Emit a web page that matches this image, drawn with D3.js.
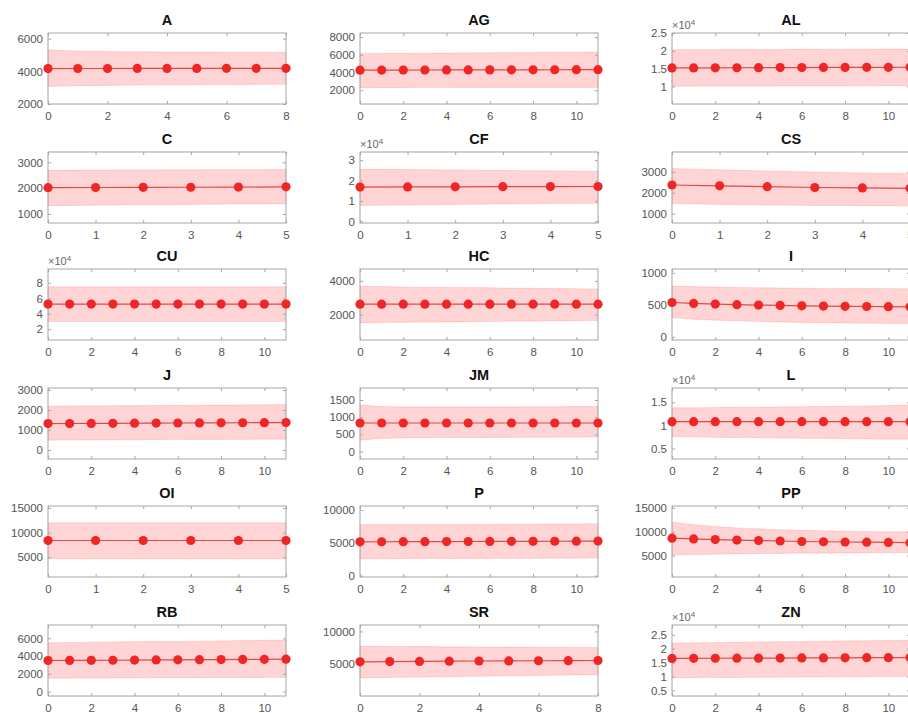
<!DOCTYPE html>
<html>
<head>
<meta charset="utf-8">
<script src="https://cdn.jsdelivr.net/npm/d3@7"></script>
<style>
  body { margin: 0; background: #fff; }
  svg { display: block; font-family: "Liberation Sans", Arial, sans-serif; }
</style>
</head>
<body>
<div id="chart"></div>
<script>
// Panel names, in reading order (3 per row)
var panelNames = ["A", "AG", "AL", "C", "CF", "CS", "CU", "HC", "I", "J", "JM", "L", "OI", "P", "PP", "RB", "SR", "ZN"];

// Mean values per panel
var A_mean  = [4170, 4175, 4175, 4178, 4180, 4182, 4184, 4186, 4188];
var AG_mean = [4260, 4270, 4275, 4280, 4285, 4290, 4295, 4300, 4305, 4310, 4315, 4320];
var AL_mean = [15200, 15220, 15240, 15260, 15280, 15300, 15320, 15340, 15360, 15380, 15390, 15400];
var C_mean  = [2020, 2025, 2030, 2035, 2040, 2050];
var CF_mean = [16800, 16900, 16950, 17000, 17050, 17100];
var CS_mean = [2370, 2330, 2290, 2250, 2230, 2210];
var CU_mean = [52500, 52500, 52500, 52500, 52500, 52500, 52500, 52500, 52500, 52500, 52500, 52500];
var HC_mean = [2620, 2620, 2620, 2620, 2620, 2620, 2620, 2620, 2620, 2620, 2620, 2620];
var I_mean  = [536, 522, 512, 503, 496, 490, 485, 480, 477, 474, 471, 468];
var J_mean  = [1320, 1325, 1330, 1335, 1340, 1345, 1350, 1355, 1358, 1362, 1366, 1370];
var JM_mean = [830, 830, 830, 830, 830, 830, 830, 830, 830, 830, 830, 830];
var L_mean  = [10800, 10800, 10800, 10800, 10800, 10800, 10800, 10800, 10800, 10800, 10800, 10800];
var OI_mean = [8400, 8400, 8400, 8400, 8400, 8400];
var P_mean  = [5150, 5160, 5170, 5180, 5190, 5200, 5210, 5220, 5230, 5240, 5250, 5260];
var PP_mean = [8650, 8500, 8350, 8250, 8150, 8050, 7950, 7900, 7850, 7800, 7750, 7700];
var RB_mean = [3500, 3510, 3520, 3530, 3545, 3560, 3575, 3590, 3605, 3620, 3635, 3650];
var SR_mean = [5300, 5330, 5360, 5390, 5420, 5440, 5460, 5480, 5500];
var ZN_mean = [16500, 16520, 16550, 16580, 16600, 16630, 16660, 16690, 16720, 16750, 16780, 16800];

// Upper bound of the shaded band
var A_upper  = [5310, 5250, 5220, 5200, 5190, 5180, 5175, 5170, 5168];
var AG_upper = [6140, 6150, 6165, 6180, 6195, 6210, 6225, 6240, 6255, 6275, 6295, 6320];
var AL_upper = [20300, 20320, 20340, 20360, 20380, 20400, 20420, 20440, 20460, 20480, 20490, 20500];
var C_upper  = [2690, 2700, 2705, 2710, 2715, 2720];
var CF_upper = [25500, 25400, 25200, 25000, 24800, 24600];
var CS_upper = [3160, 3100, 3040, 2990, 2950, 2920];
var CU_upper = [75000, 75000, 75000, 75000, 75000, 75000, 75000, 75000, 75000, 75000, 75000, 75000];
var HC_upper = [3680, 3660, 3640, 3620, 3610, 3600, 3590, 3570, 3560, 3550, 3535, 3520];
var I_upper  = [793, 785, 778, 772, 767, 763, 760, 757, 755, 754, 753, 752];
var J_upper  = [2200, 2205, 2210, 2215, 2220, 2225, 2235, 2240, 2245, 2255, 2260, 2270];
var JM_upper = [1360, 1310, 1300, 1300, 1300, 1300, 1300, 1300, 1305, 1305, 1308, 1310];
var L_upper  = [13800, 13800, 13850, 13900, 13950, 14000, 14050, 14100, 14150, 14200, 14300, 14400];
var OI_upper = [12000, 12000, 12000, 12000, 12000, 12000];
var P_upper  = [7800, 7780, 7770, 7770, 7780, 7790, 7800, 7820, 7840, 7860, 7880, 7900];
var PP_upper = [12000, 11500, 11100, 10800, 10600, 10400, 10300, 10200, 10100, 10050, 10000, 10000];
var RB_upper = [5500, 5530, 5560, 5590, 5610, 5630, 5650, 5680, 5710, 5740, 5770, 5800];
var SR_upper = [7700, 7680, 7650, 7620, 7600, 7580, 7550, 7520, 7500];
var ZN_upper = [22000, 22100, 22200, 22300, 22400, 22500, 22600, 22700, 22800, 22850, 22900, 23000];

// Lower bound of the shaded band
var A_lower  = [3070, 3120, 3140, 3160, 3175, 3185, 3195, 3200, 3210];
var AG_lower = [2280, 2290, 2295, 2300, 2300, 2305, 2305, 2310, 2310, 2310, 2315, 2315];
var AL_lower = [10100, 10110, 10120, 10130, 10140, 10150, 10160, 10170, 10180, 10190, 10195, 10200];
var C_lower  = [1320, 1340, 1355, 1370, 1385, 1400];
var CF_lower = [7800, 8000, 8300, 8500, 8700, 8900];
var CS_lower = [1480, 1440, 1410, 1390, 1380, 1370];
var CU_lower = [30000, 30000, 30000, 30000, 30000, 30000, 30000, 30000, 30000, 30000, 30000, 30000];
var HC_lower = [1510, 1530, 1545, 1560, 1570, 1585, 1595, 1605, 1615, 1625, 1640, 1650];
var I_lower  = [300, 275, 260, 250, 240, 232, 225, 220, 215, 212, 209, 207];
var J_lower  = [490, 495, 500, 505, 510, 515, 520, 525, 528, 532, 536, 540];
var JM_lower = [330, 380, 395, 400, 405, 405, 410, 410, 412, 415, 418, 420];
var L_lower  = [7600, 7500, 7400, 7350, 7300, 7250, 7200, 7150, 7100, 7050, 7000, 7000];
var OI_lower = [4700, 4700, 4700, 4700, 4700, 4700];
var P_lower  = [2550, 2570, 2590, 2600, 2610, 2620, 2630, 2640, 2650, 2660, 2670, 2680];
var PP_lower = [5100, 5200, 5300, 5350, 5400, 5450, 5500, 5500, 5550, 5550, 5600, 5600];
var RB_lower = [1500, 1510, 1520, 1530, 1540, 1550, 1560, 1570, 1580, 1590, 1595, 1600];
var SR_lower = [2800, 2870, 2930, 3000, 3060, 3120, 3180, 3240, 3300];
var ZN_lower = [9500, 9550, 9600, 9650, 9700, 9750, 9800, 9850, 9900, 9950, 9980, 10000];

// Y-axis limits and tick values per panel
var yDomains = [
  [2000, 6350], [450, 8450], [5100, 25000],
  [650, 3400], [-800, 34000], [550, 3950],
  [6000, 98000], [500, 4700], [-50, 1060],
  [-450, 3100], [-220, 1850], [2700, 18100],
  [1000, 15400], [-200, 10600], [500, 15400],
  [-500, 7500], [0, 11000], [3000, 28500]
];
var yTicks = [
  [2000, 4000, 6000], [2000, 4000, 6000, 8000], [10000, 15000, 20000, 25000],
  [1000, 2000, 3000], [0, 10000, 20000, 30000], [1000, 2000, 3000],
  [20000, 40000, 60000, 80000], [2000, 4000], [0, 500, 1000],
  [0, 1000, 2000, 3000], [0, 500, 1000, 1500], [5000, 10000, 15000],
  [5000, 10000, 15000], [0, 5000, 10000], [5000, 10000, 15000],
  [0, 2000, 4000, 6000], [5000, 10000], [5000, 10000, 15000, 20000, 25000]
];
// panels drawn with a "x10^4" exponent label
var sciPanels = ["AL", "CF", "CU", "L", "ZN"];

var meanData  = [A_mean, AG_mean, AL_mean, C_mean, CF_mean, CS_mean, CU_mean, HC_mean, I_mean, J_mean, JM_mean, L_mean, OI_mean, P_mean, PP_mean, RB_mean, SR_mean, ZN_mean];
var upperData = [A_upper, AG_upper, AL_upper, C_upper, CF_upper, CS_upper, CU_upper, HC_upper, I_upper, J_upper, JM_upper, L_upper, OI_upper, P_upper, PP_upper, RB_upper, SR_upper, ZN_upper];
var lowerData = [A_lower, AG_lower, AL_lower, C_lower, CF_lower, CS_lower, CU_lower, HC_lower, I_lower, J_lower, JM_lower, L_lower, OI_lower, P_lower, PP_lower, RB_lower, SR_lower, ZN_lower];

// Layout
var colLeft = [48, 360, 672];
var rowTop = [33, 152, 269, 388, 506, 625];
var plotW = 238, plotH = 71;

var svg = d3.select("#chart").append("svg")
    .attr("width", 908)
    .attr("height", 713);

var red = "#ee2626";

panelNames.forEach(function (name, i) {
    var mean = meanData[i], upper = upperData[i], lower = lowerData[i];
    var n = mean.length;
    var left = colLeft[i % 3], top = rowTop[Math.floor(i / 3)];
    var sci = sciPanels.indexOf(name) >= 0;

    var g = svg.append("g").attr("transform", "translate(" + left + "," + top + ")");

    var x = d3.scaleLinear().domain([0, n - 1]).range([0, plotW]);
    var y = d3.scaleLinear().domain(yDomains[i]).range([plotH, 0]);

    var xStep = n - 1 > 6 ? 2 : 1;
    var xTickVals = d3.range(0, n, xStep);

    var pts = mean.map(function (v, k) { return { k: k, m: v, u: upper[k], l: lower[k] }; });

    // shaded band
    g.append("path")
        .datum(pts)
        .attr("d", d3.area()
            .x(function (d) { return x(d.k); })
            .y0(function (d) { return y(d.l); })
            .y1(function (d) { return y(d.u); })
            .curve(d3.curveMonotoneX))
        .attr("fill", "#ff0000")
        .attr("fill-opacity", 0.17)
        .attr("stroke", "#ff0000")
        .attr("stroke-opacity", 0.12)
        .attr("stroke-width", 1);

    // axis box
    g.append("rect")
        .attr("width", plotW).attr("height", plotH)
        .attr("fill", "none")
        .attr("stroke", "#a6a6a6")
        .attr("stroke-width", 1);

    // bottom axis with inward ticks
    g.append("g")
        .attr("transform", "translate(0," + plotH + ")")
        .call(d3.axisBottom(x).tickValues(xTickVals).tickSizeInner(-3).tickSizeOuter(0).tickPadding(8).tickFormat(d3.format("d")));
    // mirrored ticks at top
    g.append("g")
        .call(d3.axisTop(x).tickValues(xTickVals).tickSizeInner(-3).tickSizeOuter(0).tickFormat(""));

    // left axis with inward ticks
    var fmt = sci ? function (v) { return d3.format("~g")(v / 1e4); } : d3.format("d");
    g.append("g")
        .call(d3.axisLeft(y).tickValues(yTicks[i]).tickSizeInner(-3).tickSizeOuter(0).tickPadding(5).tickFormat(fmt));
    g.append("g")
        .attr("transform", "translate(" + plotW + ",0)")
        .call(d3.axisRight(y).tickValues(yTicks[i]).tickSizeInner(-3).tickSizeOuter(0).tickFormat(""));

    g.selectAll(".domain").remove();
    g.selectAll(".tick line").attr("stroke", "#a6a6a6");
    g.selectAll(".tick text")
        .attr("fill", "#555")
        .style("font-size", "11.5px");

    // exponent label
    if (sci) {
        var ex = g.append("text")
            .attr("x", 0).attr("y", -4)
            .attr("fill", "#666")
            .style("font-size", "11px");
        ex.append("tspan").text("\u00d710");
        ex.append("tspan").attr("dy", -4).style("font-size", "8px").text("4");
    }

    // mean line
    g.append("path")
        .datum(pts)
        .attr("d", d3.line()
            .x(function (d) { return x(d.k); })
            .y(function (d) { return y(d.m); }))
        .attr("fill", "none")
        .attr("stroke", "#e04848")
        .attr("stroke-width", 1.2);

    // markers
    g.selectAll(".dot")
        .data(pts)
        .enter().append("circle")
        .attr("class", "dot")
        .attr("cx", function (d) { return x(d.k); })
        .attr("cy", function (d) { return y(d.m); })
        .attr("r", 4.6)
        .attr("fill", red);

    // title
    g.append("text")
        .attr("x", plotW / 2)
        .attr("y", -8)
        .attr("text-anchor", "middle")
        .style("font-size", "14.5px")
        .style("font-weight", "bold")
        .attr("fill", "#111")
        .text(name);
});
</script>
</body>
</html>
